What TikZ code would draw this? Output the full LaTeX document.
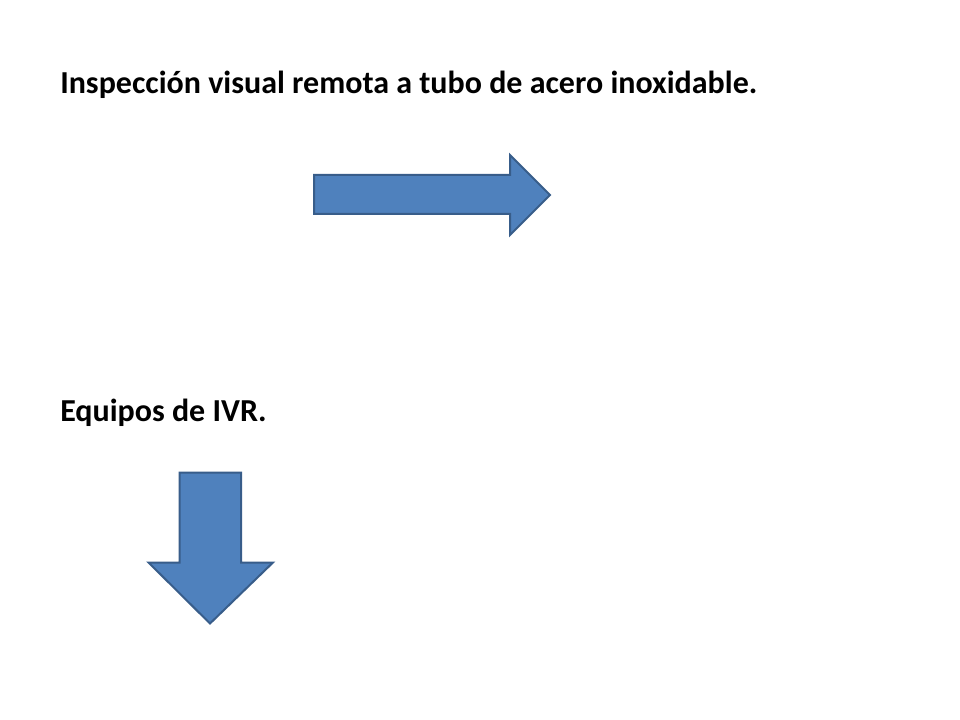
\documentclass[tikz,border=0pt]{standalone}
\usepackage{fontspec}
\setmainfont{Carlito}
\definecolor{arrfill}{HTML}{4F81BD}
\definecolor{arrline}{HTML}{385D8A}
\begin{document}
\begin{tikzpicture}[x=0.75pt,y=-0.75pt,
  blockarrow/.style={fill=arrfill,draw=arrline,line width=1.5pt,line join=miter},
  caption/.style={anchor=base west,inner sep=0pt,font=\fontsize{24}{28}\selectfont\bfseries}]
\useasboundingbox[fill=white] (0,0) rectangle (960,720);
\node[caption] (t1) at (60,94) {Inspección visual remota a tubo de acero inoxidable.};
\node[caption] (t2) at (60,421) {Equipos de IVR.};
\draw[blockarrow] (314,175) -- (510,175) -- (510,155) -- (550,195) -- (510,235) -- (510,214) -- (314,214) -- cycle;
\draw[blockarrow] (179.5,472.5) -- (241,472.5) -- (241,562.5) -- (273,562.5) -- (210,623.5) -- (148.5,562.5) -- (179.5,562.5) -- cycle;
\end{tikzpicture}
\end{document}
